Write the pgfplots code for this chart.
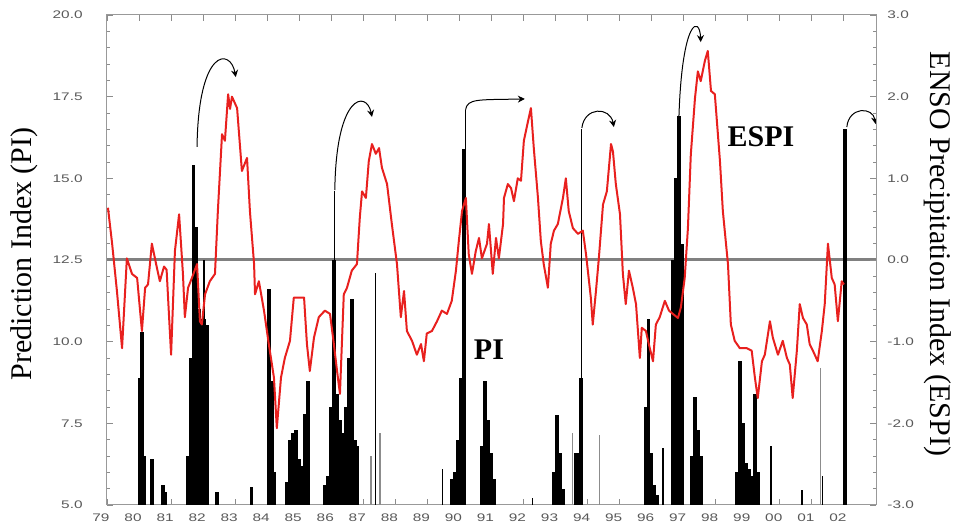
\documentclass[border=0pt]{standalone}
\usepackage{fontspec}
\setmainfont{Liberation Serif}
\newfontfamily\tickfont[FakeStretch=1.4]{Liberation Sans}
\usepackage{pgfplots}
\pgfplotsset{compat=1.18}
\usetikzlibrary{arrows.meta}
\definecolor{espired}{HTML}{E8201E}
\begin{document}
\begin{tikzpicture}
\useasboundingbox (-53.5pt,-12pt) rectangle (423pt,252.5pt);
\pgfplotsset{
  common/.style={
    scale only axis, width=384.5pt, height=245pt,
    xmin=1979, xmax=2003,
    axis line style={black!40, line width=0.5pt},
    major tick length=3pt, minor tick length=1.5pt,
    every tick/.style={black!45, line width=0.4pt},
    tick align=inside,
  }
}
\begin{axis}[common,
  ymin=5, ymax=20,
  ytick={5,7.5,...,20},
  minor y tick num=4,
  ytick pos=left,
  xtick={1979,...,2002},
  xticklabels={79,80,81,82,83,84,85,86,87,88,89,90,91,92,93,94,95,96,97,98,99,00,01,02},
  xticklabel style={font=\tickfont\fontsize{5.5}{6}\selectfont, text=black!65, anchor=north, inner sep=0pt, yshift=-4pt, xshift=-3pt},
  yticklabel style={font=\tickfont\fontsize{5.5}{6}\selectfont, text=black!65, anchor=east, inner sep=0pt, xshift=-12pt,
    /pgf/number format/.cd, fixed, fixed zerofill, precision=1, assume math mode=true},
  ylabel={Prediction Index (PI)},
  every axis y label/.style={at={(rel axis cs:0,0.5)}, xshift=-41.5pt, yshift=3pt, rotate=90, anchor=center, font=\fontsize{15}{16}\selectfont},
]
% zero line (12.5 PI = 0 ESPI)
\addplot[black!50, line width=1.5pt] coordinates {(1979,12.5) (2003,12.5)};
% PI bars, monthly
\addplot[ycomb, black, line width=1.8pt] coordinates {
(1980.03,8.9) (1980.09,10.3) (1980.16,6.5)
(1980.40,6.4)
(1980.75,5.6) (1980.81,5.4)
(1981.53,6.5) (1981.62,9.5) (1981.70,15.4) (1981.78,13.5) (1981.87,11.0) (1981.95,10.7) (1982.03,10.7) (1982.12,10.5)
(1982.43,5.4)
(1983.51,5.55)
(1984.05,11.6) (1984.15,8.8) (1984.23,6.0)
(1984.62,5.7) (1984.71,7.0) (1984.80,7.2) (1984.90,7.3) (1984.99,6.4) (1985.08,6.2) (1985.18,7.8) (1985.27,8.8)
(1985.80,5.6) (1985.90,5.9) (1985.99,8.0) (1986.08,12.5) (1986.18,8.4) (1986.27,7.6) (1986.36,7.2) (1986.46,8.0) (1986.55,9.5) (1986.64,11.3) (1986.74,7.0) (1986.82,6.8)
(1989.76,5.8) (1989.86,6.0) (1989.95,7.0) (1990.05,8.9) (1990.14,15.9)
(1990.70,6.8) (1990.79,8.8) (1990.89,7.6) (1990.98,6.6) (1991.07,5.8)
(1992.95,6.0) (1993.04,7.75) (1993.13,6.6) (1993.23,5.5)
(1993.63,6.6) (1993.73,6.6) (1993.80,8.9)
(1995.82,8.0) (1995.90,10.7) (1995.97,6.6) (1996.07,5.6) (1996.16,5.3)
(1996.66,12.5) (1996.75,15.0) (1996.85,16.9) (1996.94,13.0)
(1997.25,6.5) (1997.35,8.3) (1997.44,7.3) (1997.53,6.5)
(1998.66,6.0) (1998.75,9.4) (1998.84,7.5) (1998.94,6.3) (1999.03,6.1) (1999.12,5.9) (1999.22,8.4) (1999.31,6.0)
(2002.03,16.5)
};
% thin black spikes
\addplot[ycomb, black, line width=0.6pt] coordinates {
(1982.03,12.5) (1986.09,14.6) (1987.39,12.1) (1989.48,6.1) (1990.19,17.1)
(1992.29,5.2) (1993.82,16.5) (1996.35,6.75) (1999.72,6.8) (2000.69,5.45) (2001.34,5.9)
};
% thin grey spikes
\addplot[ycomb, black!45, line width=0.6pt] coordinates {
(1987.24,6.5) (1987.52,7.2) (1993.54,7.2) (1994.38,7.15) (2001.28,9.2)
};
% arrows from PI peaks to ESPI peaks
\draw[black, line width=0.5pt, -{Stealth[length=3.5pt,width=3.5pt]}]
  (axis cs:1981.81,15.96) .. controls (axis cs:1981.85,19.0) and (axis cs:1982.85,19.0) .. (axis cs:1983.02,18.1);
\draw[black, line width=0.5pt, -{Stealth[length=3.5pt,width=3.5pt]}]
  (axis cs:1986.11,14.64) .. controls (axis cs:1986.15,17.6) and (axis cs:1987.10,17.7) .. (axis cs:1987.27,16.88);
\draw[black, line width=0.5pt, -{Stealth[length=3.5pt,width=3.5pt]}]
  (axis cs:1990.19,17.1) .. controls (axis cs:1990.25,17.45) and (axis cs:1990.6,17.4) .. (axis cs:1992.04,17.43);
\draw[black, line width=0.5pt, -{Stealth[length=3.5pt,width=3.5pt]}]
  (axis cs:1993.82,16.54) .. controls (axis cs:1993.9,17.2) and (axis cs:1994.7,17.2) .. (axis cs:1994.82,16.57);
\draw[black, line width=0.5pt, -{Stealth[length=3.5pt,width=3.5pt]}]
  (axis cs:1996.85,16.9) .. controls (axis cs:1996.95,19.9) and (axis cs:1997.5,20.0) .. (axis cs:1997.53,19.17);
\draw[black, line width=0.5pt, -{Stealth[length=3.5pt,width=3.5pt]}]
  (axis cs:2002.09,16.57) .. controls (axis cs:2002.15,17.2) and (axis cs:2002.9,17.2) .. (axis cs:2002.99,16.66);
\node[font=\bfseries\fontsize{15}{16}\selectfont] at (axis cs:1999.41,16.26) {ESPI};
\node[font=\bfseries\fontsize{15}{16}\selectfont] at (axis cs:1990.92,9.74) {PI};
\end{axis}
\begin{axis}[common,
  ymin=-3, ymax=3,
  axis y line*=right, axis x line=none,
  ytick={-3,-2,...,3},
  minor y tick num=4,
  yticklabel style={font=\tickfont\fontsize{5.5}{6}\selectfont, text=black!65, anchor=west, inner sep=0pt, xshift=5.5pt,
    /pgf/number format/.cd, fixed, fixed zerofill, precision=1, assume math mode=true},
  ylabel={ENSO Precipitation Index (ESPI)},
  every axis y label/.style={at={(rel axis cs:1,0.5)}, xshift=31pt, yshift=3pt, rotate=-90, anchor=center, font=\fontsize{15}{16}\selectfont},
]
\addplot[espired, line width=1pt, line join=round] coordinates {
(1979.03,0.64) (1979.16,0.20) (1979.31,-0.38) (1979.47,-1.08) (1979.62,0.02) (1979.78,-0.17) (1979.94,-0.22)
(1980.09,-0.87) (1980.19,-0.34) (1980.28,-0.30) (1980.40,0.20) (1980.56,-0.10) (1980.65,-0.26) (1980.78,-0.08) (1980.86,-0.12)
(1981.00,-1.16) (1981.12,0.11) (1981.25,0.56) (1981.37,-0.17) (1981.43,-0.70) (1981.53,-0.34) (1981.65,-0.22) (1981.81,-0.05) (1981.90,-0.75) (1981.96,-0.79)
(1982.06,-0.42) (1982.21,-0.26) (1982.37,-0.17) (1982.46,0.60) (1982.59,1.54) (1982.68,1.46) (1982.78,2.03) (1982.84,1.85) (1982.90,2.00)
(1983.06,1.86) (1983.21,1.09) (1983.37,1.25) (1983.46,0.60) (1983.59,-0.05) (1983.62,-0.42) (1983.74,-0.26) (1983.90,-0.62)
(1984.05,-1.03) (1984.21,-1.44) (1984.30,-2.06) (1984.43,-1.44) (1984.55,-1.20) (1984.71,-0.99) (1984.83,-0.46) (1984.99,-0.46)
(1985.15,-0.46) (1985.24,-1.03) (1985.33,-1.36) (1985.46,-0.95) (1985.61,-0.70) (1985.80,-0.62) (1985.96,-0.66)
(1986.08,-1.03) (1986.18,-1.36) (1986.27,-1.64) (1986.39,-0.42) (1986.49,-0.34) (1986.64,-0.13) (1986.80,-0.05) (1986.89,0.52) (1986.96,0.84)
(1987.08,0.76) (1987.17,1.21) (1987.27,1.42) (1987.39,1.30) (1987.49,1.37) (1987.58,1.13) (1987.74,0.93) (1987.89,0.44)
(1988.05,-0.05) (1988.17,-0.70) (1988.27,-0.38) (1988.36,-0.87) (1988.52,-0.99) (1988.67,-1.16) (1988.80,-1.03) (1988.89,-1.24) (1988.98,-0.90)
(1989.14,-0.87) (1989.30,-0.75) (1989.45,-0.62) (1989.61,-0.66) (1989.76,-0.50) (1989.89,-0.13) (1989.98,0.23)
(1990.08,0.60) (1990.20,0.76) (1990.29,0.07) (1990.39,-0.17) (1990.51,0.11) (1990.61,0.27) (1990.70,0.02) (1990.86,0.20) (1990.92,0.44)
(1991.04,-0.17) (1991.14,0.27) (1991.23,0.02) (1991.36,0.44) (1991.39,0.76) (1991.51,0.93) (1991.61,0.88) (1991.70,0.72) (1991.82,1.00) (1991.92,0.97)
(1992.01,1.46) (1992.14,1.70) (1992.23,1.86) (1992.32,1.37) (1992.45,0.76) (1992.54,0.23) (1992.63,-0.05) (1992.76,-0.34) (1992.85,0.20) (1992.95,0.36)
(1993.07,0.44) (1993.23,0.76) (1993.32,1.00) (1993.41,0.60) (1993.54,0.39) (1993.70,0.32) (1993.85,0.36) (1993.95,0.07)
(1994.10,-0.46) (1994.16,-0.79) (1994.26,-0.38) (1994.35,0.02) (1994.48,0.68) (1994.60,0.84) (1994.73,1.42) (1994.79,1.33) (1994.88,0.93)
(1995.01,0.56) (1995.10,-0.17) (1995.19,-0.54) (1995.29,-0.13) (1995.41,-0.34) (1995.51,-0.54) (1995.63,-1.20) (1995.69,-0.83) (1995.82,-0.87) (1995.91,-1.03)
(1996.04,-1.24) (1996.13,-0.79) (1996.25,-0.70) (1996.41,-0.50) (1996.54,-0.62) (1996.66,-0.66) (1996.82,-0.71) (1996.91,-0.58)
(1997.03,-0.22) (1997.13,0.39) (1997.22,1.29) (1997.35,1.98) (1997.44,2.31) (1997.53,2.19) (1997.66,2.44) (1997.75,2.56) (1997.85,2.07) (1997.97,2.03)
(1998.13,1.21) (1998.22,0.60) (1998.38,-0.05) (1998.47,-0.79) (1998.59,-0.99) (1998.75,-1.08) (1998.97,-1.08)
(1999.12,-1.11) (1999.22,-1.44) (1999.31,-1.69) (1999.44,-1.24) (1999.53,-1.16) (1999.69,-0.75) (1999.78,-0.95) (1999.94,-1.16)
(2000.09,-0.99) (2000.22,-1.20) (2000.31,-1.28) (2000.40,-1.69) (2000.53,-1.11) (2000.62,-0.54) (2000.72,-0.71) (2000.84,-0.79) (2000.93,-1.03)
(2001.03,-1.11) (2001.18,-1.24) (2001.31,-0.87) (2001.40,-0.54) (2001.50,0.20) (2001.62,-0.22) (2001.71,-0.30) (2001.81,-0.75) (2001.93,-0.26) (2002.00,-0.30)
};
\end{axis}
\end{tikzpicture}
\end{document}
